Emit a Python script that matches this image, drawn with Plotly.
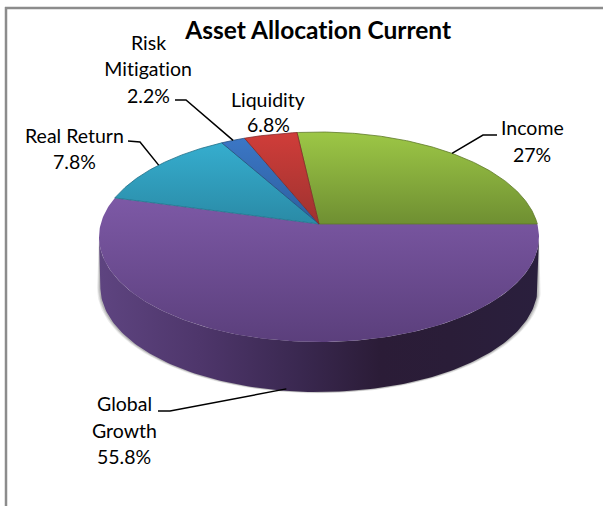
import numpy as np
import plotly.graph_objects as go

# ---- data ----
title_text = "Asset Allocation Current"
categories = ["Income", "Global Growth", "Real Return", "Risk Mitigation", "Liquidity"]
label_lines = [["Income", "27%"], ["Global", "Growth", "55.8%"], ["Real Return", "7.8%"],
               ["Risk", "Mitigation", "2.2%"], ["Liquidity", "6.8%"]]
# slice shares as drawn in the picture (%), clockwise from the right-hand edge order below
drawn_shares = [26.8, 54.2, 12.6, 2.0, 4.4]
top_colors = [("#9dc746", "#6f8f32"), ("#7d59a6", "#5b3f7c"), ("#37b2d4", "#2a8aa6"),
              ("#3c78c8", "#2d5f9e"), ("#d03d39", "#9e3230")]
edge_colors = ["#5f7a2b", "#4f3669", "#1f6f88", "#27507f", "#85292a"]
wall_stops = [(100, "#5e4480"), (200, "#4e366b"), (300, "#3a2850"),
              (380, "#2b1c37"), (450, "#2a1d38"), (537, "#2a1f3d")]

# ---- layout / projection ----
W, H = 603, 506
APEX_X, APEX_Y = 319, 224
A, B, K = 218.3, 103.4, 0.124
DEPTH = 50
GREEN_START = 96.5  # degrees, counter-clockwise from east


def rim(theta_deg, depth=0.0, scale=1.0):
    t = np.radians(theta_deg)
    X, Y = np.cos(t), np.sin(t)
    d = 1 + K * Y
    return APEX_X + scale * A * X / d, APEX_Y - B * Y / d + depth


# slice angle ranges, walking clockwise from the top of the Income slice
order = [0, 1, 2, 3, 4]
angles = []
cur = GREEN_START
for i in order:
    sweep = drawn_shares[i] / sum(drawn_shares) * 360
    angles.append((cur, cur - sweep))
    cur -= sweep

fig = go.Figure()


def poly(xs, ys, **kw):
    fig.add_trace(go.Scatter(x=list(xs), y=list(ys), mode="lines", fill="toself",
                             hoverinfo="skip", showlegend=False, **kw))


# soft shadow round the wall
th = np.linspace(187, 353, 160)
for grow, alpha in [(3.2, 0.10), (2.2, 0.14), (1.2, 0.18)]:
    xt, yt = rim(th)
    xb, yb = rim(th[::-1], DEPTH + grow * 0.4, (A * 0.994 + grow) / A)
    poly(np.r_[xt, xb], np.r_[yt, yb], line=dict(width=0), fillcolor=f"rgba(60,60,60,{alpha})")

# wall
xt, yt = rim(th)
xb, yb = rim(th[::-1], DEPTH, 0.994)
x0, x1 = wall_stops[0][0], wall_stops[-1][0]
poly(np.r_[xt, xb], np.r_[yt, yb], line=dict(width=0),
     fillgradient=dict(type="horizontal", start=x0, stop=x1,
                       colorscale=[[(x - x0) / (x1 - x0), c] for x, c in wall_stops]))

# top faces (largest first, then the rest on top of it)
for i in [1, 0, 2, 3, 4]:
    a0, a1 = angles[i]
    ts = np.linspace(a0, a1, 200)
    xr, yr = rim(ts)
    xs = np.r_[APEX_X, xr, APEX_X]
    ys = np.r_[APEX_Y, yr, APEX_Y]
    c_top, c_bot = top_colors[i]
    y_top, y_bot = (197, 342) if i == 1 else (132, 224)
    poly(xs, ys, line=dict(width=0.8 if i != 1 else 0, color=edge_colors[i]),
         fillgradient=dict(type="vertical", start=y_top, stop=y_bot,
                           colorscale=[[0, c_top], [1, c_bot]]))

# leader lines: elbow points are layout, the slice end follows the slice middle
elbows = {0: [(497, 135), (483, 135)], 1: [(158, 411), (170, 411)],
          2: [(128, 141), (140, 142)], 3: [(175, 100), (186, 100)]}
for i, pts in elbows.items():
    mid = sum(angles[i]) / 2
    ex, ey = rim(mid, DEPTH - 2 if i == 1 else 0)
    fig.add_trace(go.Scatter(x=[p[0] for p in pts] + [ex], y=[p[1] for p in pts] + [ey],
                             mode="lines", line=dict(color="black", width=1.5),
                             hoverinfo="skip", showlegend=False))

# labels
label_pos = {0: (532, [127, 154]), 1: (124, [403, 430, 456]), 2: (74, [135, 161]),
             3: (148, [42, 68, 95]), 4: (268, [99, 124])}
ann = []
for i, lines in enumerate(label_lines):
    lx, lys = label_pos[i]
    for t, ly in zip(lines, lys):
        ann.append(dict(x=lx, y=ly, text=t, showarrow=False, xanchor="center", yanchor="middle",
                        font=dict(family="Lato", size=19.5, color="black")))
ann.append(dict(x=317, y=29.5, text=f"<b>{title_text}</b>", showarrow=False, xanchor="center",
                yanchor="middle", font=dict(family="Lato", size=24.5, color="black")))

FRAME = "#8c8c8c"
shapes = [dict(type="line", x0=5, x1=W, y0=8, y1=8, line=dict(color=FRAME, width=2.5)),
          dict(type="line", x0=6, x1=6, y0=7, y1=H, line=dict(color=FRAME, width=2.5))]

fig.update_layout(width=W, height=H, margin=dict(l=0, r=0, t=0, b=0), autosize=False,
                  paper_bgcolor="white", plot_bgcolor="white", showlegend=False,
                  annotations=ann, shapes=shapes,
                  xaxis=dict(range=[0, W], visible=False, fixedrange=True),
                  yaxis=dict(range=[H, 0], visible=False, fixedrange=True))
post = ("document.body.style.margin='0';document.documentElement.style.overflow='hidden';"
        "var s=document.createElement('style');"
        "s.textContent='text{font-variant-ligatures:none !important;font-feature-settings:\"liga\" 0 !important}';"
        "document.head.appendChild(s);")
fig.write_html("out.html", config={"displayModeBar": False}, post_script=post)
